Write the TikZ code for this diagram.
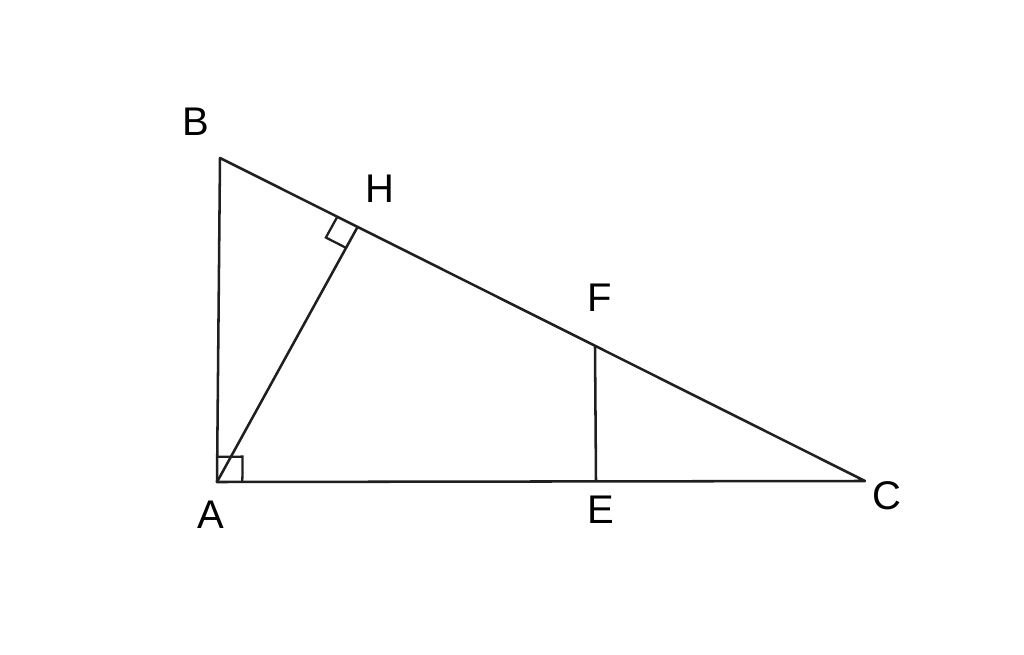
\documentclass[tikz,border=0pt]{standalone}
\usepackage{fontspec}
\setmainfont{Liberation Sans}
\usetikzlibrary{calc}
\begin{document}
\begin{tikzpicture}[x=0.75pt,y=-0.75pt,
  seg/.style={line width=1.9pt,draw=black!88,line cap=round,line join=round},
  rtmark/.style={line width=1.7pt,draw=black!88},
  lbl/.style={font=\fontsize{30}{32}\selectfont,inner sep=0pt,anchor=center}]
\useasboundingbox (0,0) rectangle (1024,655);
\coordinate (A) at (217,482);
\coordinate (B) at (220,158);
\coordinate (C) at (865,481);
\coordinate (H) at (357,228);
\coordinate (E) at (596,481);
\coordinate (F) at (595,347);
\draw[seg] (B) -- (A) -- (C) -- cycle;
\draw[seg] (A) -- (H);
\draw[seg] (F) -- (E);
% right angle marks
\draw[rtmark] ($(H)!17pt!(B)$) -- ($($(H)!17pt!(B)$)+($(H)!17pt!(A)$)-(H)$) -- ($(H)!17pt!(A)$);
\draw[rtmark] ($(A)!19pt!(C)$) -- ($($(A)!19pt!(C)$)+($(A)!19pt!(B)$)-(A)$) -- ($(A)!19pt!(B)$);
\node[lbl] (lB) at (196,122) {B};
\node[lbl] (lH) at (380,189) {H};
\node[lbl] (lF) at (600,298) {F};
\node[lbl] (lE) at (601,510) {E};
\node[lbl] (lA) at (211,515) {A};
\node[lbl] (lC) at (887,496) {C};
\end{tikzpicture}
\end{document}
